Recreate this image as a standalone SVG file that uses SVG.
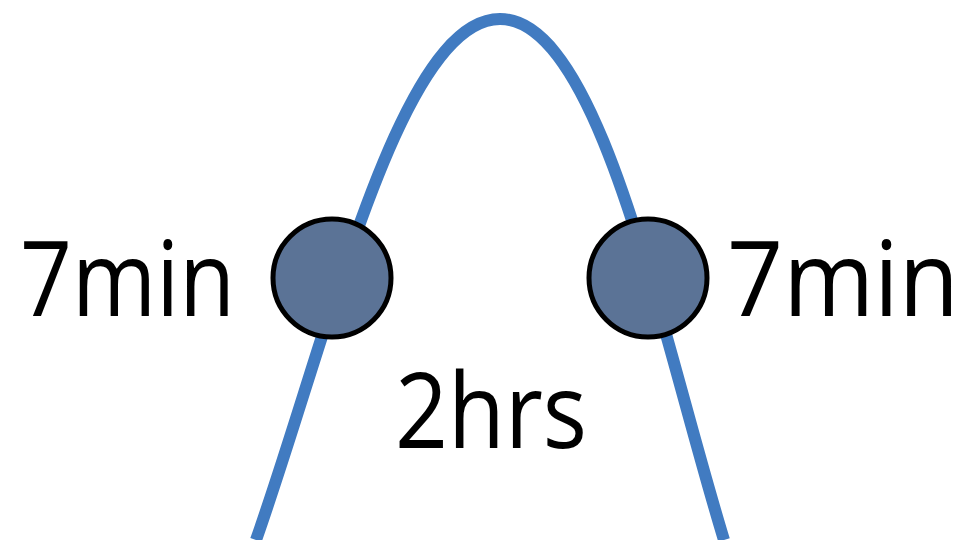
<svg xmlns="http://www.w3.org/2000/svg" width="971" height="540" viewBox="0 0 971 540">
<style>
.lbl{font-family:"Open Sans","Noto Sans","DejaVu Sans",sans-serif;font-size:104px;fill:#000}
.dot{fill:#5b7396;stroke:#000;stroke-width:5}
</style>
<rect width="971" height="540" fill="#fff"/>
<g id="connectors">
<path id="curve" d="M256,540 C330,330 400,19 500,19 C600,19 660,330 724,540" fill="none" stroke="#417bc1" stroke-width="12"/>
</g>
<g id="node-left"><circle class="dot" cx="332" cy="278" r="59"/></g>
<g id="node-right"><circle class="dot" cx="648" cy="278" r="59"/></g>
<g id="label-left"><text class="lbl" x="20" y="316" textLength="215" lengthAdjust="spacingAndGlyphs">7min</text></g>
<g id="label-right"><text class="lbl" x="727" y="316" textLength="232" lengthAdjust="spacingAndGlyphs">7min</text></g>
<g id="label-mid"><text class="lbl" x="395" y="448" textLength="192" lengthAdjust="spacingAndGlyphs">2hrs</text></g>
</svg>
